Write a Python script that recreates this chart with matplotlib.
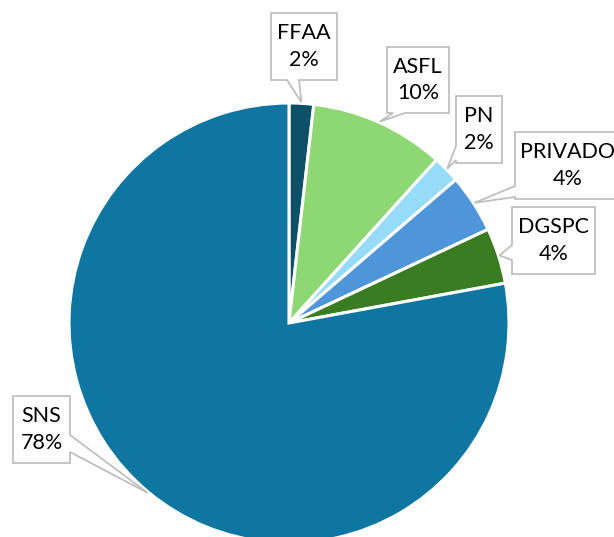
import numpy as np
import matplotlib
matplotlib.use("Agg")
import matplotlib.pyplot as plt
from matplotlib.patches import Polygon

# slice data, clockwise from 12 o'clock
labels = ["FFAA", "ASFL", "PN", "PRIVADO", "DGSPC", "SNS"]
values = [1.8, 9.9, 2.0, 4.3, 4.1, 77.9]
pct_text = ["2%", "10%", "2%", "4%", "4%", "78%"]
colors = ["#0f5069", "#8ed873", "#96dcf8", "#4e95d9", "#3a7c22", "#0e76a0"]

W, H = 614, 537
cx, cy, R = 289, 323, 220   # pie centre / radius in pixel units

# callout boxes in pixel coords: (x0, y0, x1, y1), side of pointer, base start, base end
boxes = {
    "FFAA":    ((271, 13, 337, 80), "bottom", 287, 299),
    "ASFL":    ((387, 47, 449, 113), "bottom", 393, 405),
    "PN":      ((456, 96, 502, 163), "left", 146, 160),
    "PRIVADO": ((515, 132, 640, 199), "left", 186, 197),
    "DGSPC":   ((512, 207, 595, 274), "left", 245, 260),
    "SNS":     ((13, 396, 70, 463), "right", 435, 452),
}
text_x = {"PRIVADO": 568}


def py(y):
    return H - y


def callout(box, side, b0, b1, tip):
    x0, y0, x1, y1 = box
    if side == "bottom":
        pts = [(x0, y0), (x1, y0), (x1, y1), (b1, y1), tip, (b0, y1), (x0, y1)]
    elif side == "left":
        pts = [(x0, y0), (x1, y0), (x1, y1), (x0, y1), (x0, b1), tip, (x0, b0)]
    else:
        pts = [(x0, y0), (x1, y0), (x1, b0), tip, (x1, b1), (x1, y1), (x0, y1)]
    return [(x, py(y)) for x, y in pts]


fig = plt.figure(figsize=(W / 100, H / 100), dpi=100)
ax = fig.add_axes([0, 0, 1, 1])

ax.pie(values, colors=colors, startangle=90, counterclock=False,
       center=(cx, py(cy)), radius=R,
       wedgeprops=dict(edgecolor="white", linewidth=2.2))

frac = np.array(values) / sum(values)
mids = np.cumsum(frac) - frac / 2
for i, name in enumerate(labels):
    ang = np.deg2rad(mids[i] * 360)
    tip = (cx + (R + 1) * np.sin(ang), cy - (R + 1) * np.cos(ang))
    box, side, b0, b1 = boxes[name]
    poly = Polygon(callout(box, side, b0, b1, tip), closed=True,
                   facecolor="white", edgecolor="#bfbfbf", linewidth=1.3,
                   zorder=5)
    ax.add_patch(poly)
    tx = text_x.get(name, (box[0] + box[2]) / 2)
    ty = (box[1] + box[3]) / 2
    ax.text(tx, py(ty), name + "\n" + pct_text[i], ha="center", va="center",
            fontsize=15.5, family="Lato", color="black", linespacing=1.42,
            zorder=6)

ax.set_xlim(0, W)
ax.set_ylim(0, H)
ax.set_aspect("equal")
ax.axis("off")

fig.savefig("out.png", dpi=100)
